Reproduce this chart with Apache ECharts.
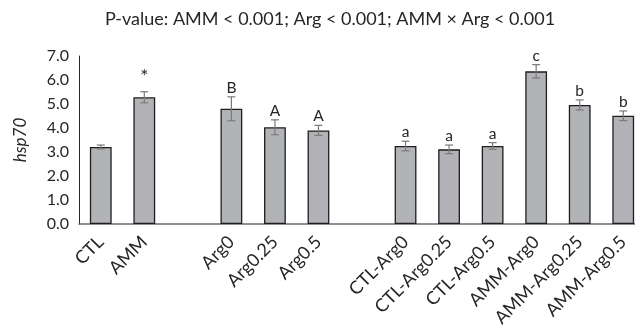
<!DOCTYPE html>
<html>
<head>
<meta charset="utf-8">
<script src="https://cdn.jsdelivr.net/npm/echarts@6/dist/echarts.min.js"></script>
<style>html,body{margin:0;padding:0;background:#fff;overflow:hidden}#c{width:635px;height:325px}</style>
</head>
<body>
<div id="c"></div>
<script>
var categories = ['CTL','AMM','','Arg0','Arg0.25','Arg0.5','','CTL-Arg0','CTL-Arg0.25','CTL-Arg0.5','AMM-Arg0','AMM-Arg0.25','AMM-Arg0.5'];
var means = [3.21, 5.28, null, 4.80, 4.03, 3.90, null, 3.25, 3.11, 3.25, 6.36, 4.96, 4.51];
var errors = [0.08, 0.23, null, 0.50, 0.31, 0.21, null, 0.20, 0.18, 0.14, 0.28, 0.21, 0.20];
var letters = ['', '*', '', 'B', 'A', 'A', '', 'a', 'a', 'a', 'c', 'b', 'b'];
var yTicks = [0, 1, 2, 3, 4, 5, 6, 7];
var titleText = 'P-value: AMM < 0.001; Arg < 0.001; AMM \u00d7 Arg < 0.001';
var yName = 'hsp70';

var FONT = 'Lato';
var barData = [], errData = [], labelIdx = [];
for (var i = 0; i < categories.length; i++) {
  if (means[i] != null) {
    barData.push([i, means[i]]);
    errData.push([i, means[i], errors[i], letters[i]]);
    labelIdx.push(i);
  }
}

var chart = echarts.init(document.getElementById('c'), null, {renderer: 'canvas'});
chart.setOption({
  animation: false,
  tooltip: {show: false},
  axisPointer: {show: false},
  textStyle: {fontFamily: FONT},
  graphic: [{
    type: 'text', x: 330, y: 19,
    style: {text: titleText, font: '18px Lato', fill: '#262626', textAlign: 'center', textVerticalAlign: 'middle'}
  }],
  grid: {left: 79, top: 56, right: 0, height: 168, containLabel: false, outerBoundsMode: 'none'},
  xAxis: {
    type: 'value', min: -0.5, max: 12.27,
    axisLine: {show: true, onZero: false, lineStyle: {color: '#6b6b6b', width: 1.5}},
    axisTick: {show: false},
    axisPointer: {show: false},
    axisLabel: {customValues: labelIdx, rotate: 45, margin: 15, fontSize: 18, color: '#262626', fontFamily: FONT, hideOverlap: false,
      showMinLabel: true, showMaxLabel: true,
      formatter: function (v) { return categories[Math.round(v)] || ''; }},
    splitLine: {show: false}
  },
  yAxis: {
    type: 'value', min: yTicks[0], max: yTicks[yTicks.length - 1], interval: 1,
    name: yName, nameLocation: 'middle', nameGap: 50, nameRotate: 90,
    nameTextStyle: {fontStyle: 'italic', fontSize: 17, color: '#262626', fontFamily: FONT},
    axisLine: {show: true, onZero: false, lineStyle: {color: '#262626', width: 1}},
    axisTick: {show: false},
    axisPointer: {show: false},
    axisLabel: {margin: 10, fontSize: 16, color: '#262626', fontFamily: FONT,
      formatter: function (v) { return v.toFixed(1); }},
    splitLine: {show: false}
  },
  series: [{
    type: 'bar', data: barData, barWidth: 21.8,
    itemStyle: {color: '#b2b3b7', borderColor: '#1e1e1e', borderWidth: 1.3}
  }, {
    type: 'custom', data: errData,
    encode: {x: 0, y: 1},
    z: 5, clip: false,
    renderItem: function (params, api) {
      var x = api.value(0), m = api.value(1), e = api.value(2);
      var lab = errData[params.dataIndex][3];
      var top = api.coord([x, m + e]);
      var bot = api.coord([x, m - e]);
      var cw = 4;
      var st = {stroke: '#7a7a7a', lineWidth: 1.2};
      var isStar = lab === '*';
      var kids = [
        {type: 'line', shape: {x1: top[0], y1: top[1], x2: bot[0], y2: bot[1]}, style: st},
        {type: 'line', shape: {x1: top[0] - cw, y1: top[1], x2: top[0] + cw, y2: top[1]}, style: st},
        {type: 'line', shape: {x1: bot[0] - cw, y1: bot[1], x2: bot[0] + cw, y2: bot[1]}, style: st}
      ];
      if (lab) {
        kids.push({type: 'text', x: top[0], y: top[1] - (isStar ? 5 : 1),
          style: {text: lab, font: (isStar ? '19px' : '15.5px') + ' Lato', fill: '#262626', textAlign: 'center', textVerticalAlign: 'bottom'}});
      }
      return {type: 'group', children: kids};
    }
  }]
});
</script>
</body>
</html>
